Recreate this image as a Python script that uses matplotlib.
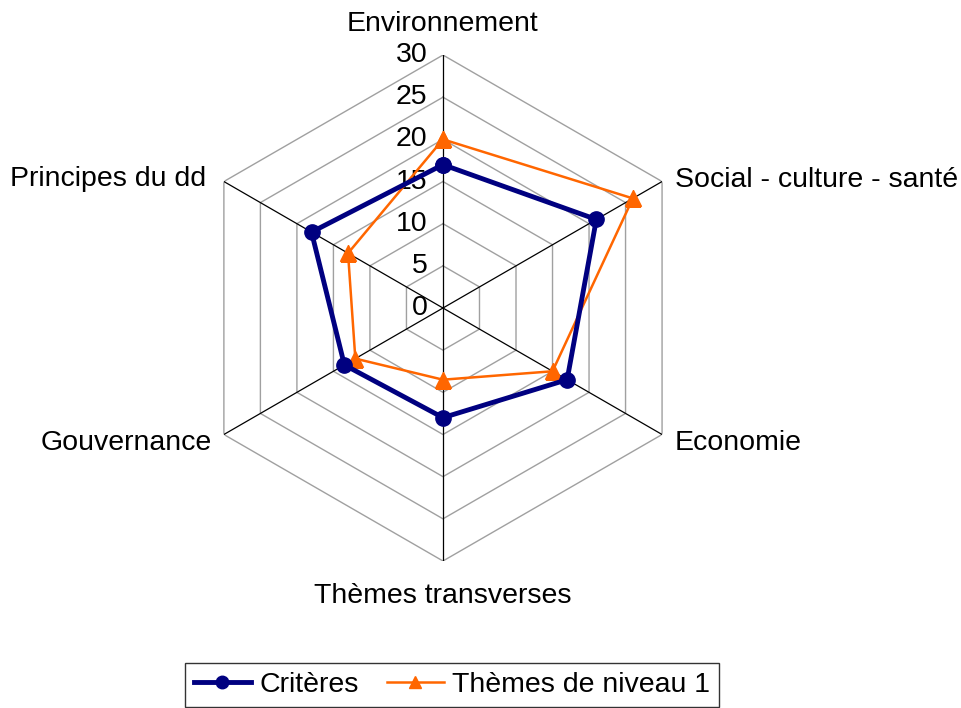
import numpy as np
import matplotlib.pyplot as plt

plt.rcParams["font.family"] = ["Liberation Sans", "DejaVu Sans"]

CATEGORIES = [
    "Environnement",
    "Social - culture - santé",
    "Economie",
    "Thèmes transverses",
    "Gouvernance",
    "Principes du dd",
]
CRITERES = [17, 21, 17, 13, 13.5, 18]
THEMES_N1 = [20, 26, 15, 8.5, 12, 13]
TICKS = [0, 5, 10, 15, 20, 25, 30]

NAVY = "#000080"
ORANGE = "#FF6600"
FS = 20.5

fig = plt.figure(figsize=(9.61, 7.08), dpi=100)
ax = fig.add_axes([0.1977, 0.2076, 0.5265, 0.7147], projection="polar")
ax.set_theta_offset(np.pi / 2)
ax.set_theta_direction(-1)
ax.set_ylim(0, 30)
ax.grid(False)
ax.spines["polar"].set_visible(False)
ax.set_xticks([])
ax.set_yticks([])

n = len(CATEGORIES)
theta = np.arange(n) * 2 * np.pi / n
theta_closed = np.append(theta, theta[0])

# hexagonal rings
for r in TICKS[1:]:
    ax.plot(theta_closed, [r] * (n + 1), color="#A0A0A0", lw=1.0, zorder=1)

# spokes
for t in theta:
    ax.plot([t, t], [0, TICKS[-1]], color="black", lw=0.9, zorder=2)

# radial tick labels
for r in TICKS:
    ax.annotate(str(r), xy=(0, r), xytext=(-11, 0), textcoords="offset points",
                ha="right", va="center", fontsize=FS, annotation_clip=False)

def closed(vals):
    return np.append(vals, vals[0])

ax.plot(theta_closed, closed(CRITERES), color=NAVY, lw=3.5, marker="o",
        ms=11, label="Critères", zorder=4)
ax.plot(theta_closed, closed(THEMES_N1), color=ORANGE, lw=1.8, marker="^",
        ms=12, label="Thèmes de niveau 1", zorder=3)

# category labels, offset (in points) from the outer ring vertex
label_pos = [
    ((0, 22), "center"),
    ((9, 1), "left"),
    ((9, -6), "left"),
    ((0, -25), "center"),
    ((-9, -6), "right"),
    ((-13, 2), "right"),
]
for name, t, (off, ha) in zip(CATEGORIES, theta, label_pos):
    ax.annotate(name, xy=(t, TICKS[-1]), xytext=off, textcoords="offset points",
                ha=ha, va="center", fontsize=FS, annotation_clip=False)

leg = fig.legend(loc="center", bbox_to_anchor=(452 / 961, 1 - 685 / 708),
                 ncol=2, fontsize=FS, frameon=True, fancybox=False,
                 edgecolor="black", handlelength=2.0, handletextpad=0.3,
                 columnspacing=1.0, borderpad=0.3)
leg.get_frame().set_linewidth(1.0)
for h in leg.legend_handles:
    h.set_markersize(9)

fig.savefig("out.png", dpi=100)
